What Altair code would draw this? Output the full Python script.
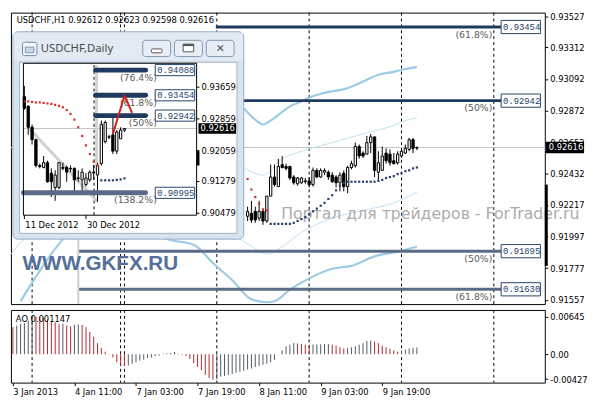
import json
import altair as alt
import pandas as pd

# ---------------- H1 chart data (bar 0 = 3 Jan 2013 19:00, one bar per hour) ----------------
h1_bar = list(range(61, 106))
h1_open = [0.92138, 0.92158, 0.92172, 0.92125, 0.92172, 0.92105, 0.92278, 0.92411, 0.92344, 0.92497,
           0.92484, 0.92484, 0.92411, 0.92364, 0.92371, 0.92378, 0.92384, 0.92358, 0.92457, 0.92411,
           0.92444, 0.92444, 0.92424, 0.92411, 0.92371, 0.92437, 0.92344, 0.92477, 0.92490, 0.92623,
           0.92577, 0.92570, 0.92650, 0.92690, 0.92444, 0.92457, 0.92577, 0.92570, 0.92524, 0.92510,
           0.92557, 0.92577, 0.92603, 0.92670, 0.92612]
h1_high = [0.92205, 0.92245, 0.92205, 0.92245, 0.92191, 0.92278, 0.92497, 0.92497, 0.92537, 0.92557,
           0.92504, 0.92490, 0.92424, 0.92411, 0.92411, 0.92404, 0.92411, 0.92477, 0.92471, 0.92471,
           0.92471, 0.92457, 0.92444, 0.92424, 0.92444, 0.92457, 0.92490, 0.92524, 0.92650, 0.92637,
           0.92590, 0.92697, 0.92710, 0.92690, 0.92590, 0.92623, 0.92610, 0.92603, 0.92577, 0.92590,
           0.92603, 0.92637, 0.92683, 0.92683, 0.92623]
h1_low = [0.92105, 0.92092, 0.92092, 0.92105, 0.92078, 0.92092, 0.92278, 0.92344, 0.92344, 0.92471,
          0.92457, 0.92391, 0.92358, 0.92351, 0.92364, 0.92364, 0.92338, 0.92344, 0.92404, 0.92404,
          0.92424, 0.92391, 0.92371, 0.92338, 0.92311, 0.92311, 0.92298, 0.92464, 0.92477, 0.92537,
          0.92544, 0.92570, 0.92577, 0.92411, 0.92391, 0.92457, 0.92504, 0.92490, 0.92497, 0.92497,
          0.92544, 0.92570, 0.92590, 0.92577, 0.92598]
h1_close = [0.92172, 0.92112, 0.92112, 0.92172, 0.92105, 0.92278, 0.92411, 0.92358, 0.92484, 0.92477,
            0.92471, 0.92404, 0.92371, 0.92404, 0.92404, 0.92384, 0.92358, 0.92457, 0.92411, 0.92457,
            0.92457, 0.92411, 0.92378, 0.92371, 0.92424, 0.92344, 0.92477, 0.92504, 0.92623, 0.92557,
            0.92557, 0.92650, 0.92690, 0.92457, 0.92510, 0.92557, 0.92524, 0.92510, 0.92504, 0.92570,
            0.92590, 0.92610, 0.92670, 0.92610, 0.92616]

sar_red_bar = [61, 62, 63, 64, 65, 66]
sar_red_val = [0.92397, 0.92324, 0.92271, 0.92225, 0.92185, 0.92178]
sar_blue_bar = list(range(67, 106))
sar_blue_val = [0.92085, 0.92085, 0.92085, 0.92085, 0.92085, 0.92085, 0.92092, 0.92105, 0.92118, 0.92132,
                0.92152, 0.92172, 0.92191, 0.92211, 0.92231, 0.92258, 0.92284, 0.92318, 0.92351, 0.92371,
                0.92378, 0.92378, 0.92378, 0.92378, 0.92378, 0.92378, 0.92378, 0.92378, 0.92384, 0.92391,
                0.92404, 0.92411, 0.92417, 0.92431, 0.92437, 0.92451, 0.92457, 0.92471, 0.92477]

band_upper_bar = [60, 63, 65, 67, 70, 72, 75, 77, 81, 87, 91, 95, 99, 102, 105]
band_upper_val = [0.92889, 0.92809, 0.92776, 0.92803, 0.92863, 0.92902, 0.92936, 0.92962, 0.92996, 0.93029,
                  0.93075, 0.93122, 0.93142, 0.93162, 0.93175]
band_mid_bar = [59, 63, 65, 70, 75, 82, 90, 99, 102, 105]
band_mid_val = [0.92490, 0.92437, 0.92424, 0.92537, 0.92590, 0.92643, 0.92703, 0.92770, 0.92803, 0.92823]
band_lowthin_bar = [-0.5, 3, 30, 59, 63, 66, 70, 75, 83, 91, 99, 105]
band_lowthin_val = [0.91873, 0.91979, 0.92250, 0.91979, 0.91912, 0.91873, 0.91926, 0.92025, 0.92125, 0.92178,
                    0.92231, 0.92304]
band_low_bar = [2, 12, 26, 40, 47, 52, 57, 62, 66, 68, 72, 77, 83, 88, 94, 100, 105]
band_low_val = [0.91547, 0.91946, 0.92250, 0.91979, 0.91939, 0.91813, 0.91693, 0.91560, 0.91540, 0.91547,
                0.91627, 0.91706, 0.91773, 0.91793, 0.91859, 0.91892, 0.91926]

fib_hi_levels = [0.93454, 0.92942]
fib_hi_pct = ["(61.8%)", "(50%)"]
fib_hi_start = 52.75
fib_lo_levels = [0.91895, 0.91630]
fib_lo_pct = ["(50%)", "(61.8%)"]
fib_lo_start = 17
fib_end = 127

sep_bars = [5, 28, 29, 53, 77, 101, 125]
main_ticks = [0.93527, 0.93312, 0.93092, 0.92872, 0.92652, 0.92432, 0.92217, 0.91997, 0.91777, 0.91557]
current_price = 0.92616
title_text = "USDCHF,H1  0.92612 0.92623 0.92598 0.92616"

# ---------------- AO indicator ----------------
ao_vals = [0.00464, 0.00492, 0.00518, 0.00534, 0.00574, 0.00650, 0.00645, 0.00638, 0.00628, 0.00600,
           0.00574, 0.00546, 0.00518, 0.00525, 0.00492, 0.00480, 0.00502, 0.00508, 0.00502, 0.00464,
           0.00382, 0.00300, 0.00190, 0.00108, 0.00043, -0.00005, -0.00056, -0.00138, -0.00192, -0.00203,
           -0.00192, -0.00164, -0.00138, -0.00110, -0.00093, -0.00066, -0.00056, -0.00033, -0.00023, 0.00010,
           0.00016, 0.00021, 0.00038, 0.00010, -0.00011, -0.00028, -0.00082, -0.00154, -0.00220, -0.00274,
           -0.00356, -0.00410, -0.00438, -0.00431, -0.00384, -0.00372, -0.00356, -0.00339, -0.00318, -0.00302,
           -0.00285, -0.00262, -0.00246, -0.00220, -0.00203, -0.00180, -0.00164, -0.00138, -0.00098, -0.00004,
           0.00066, 0.00136, 0.00164, 0.00192, 0.00187, 0.00174, 0.00164, 0.00159, 0.00164, 0.00167,
           0.00169, 0.00174, 0.00177, 0.00164, 0.00148, 0.00120, 0.00100, 0.00107, 0.00120, 0.00136,
           0.00164, 0.00190, 0.00230, 0.00234, 0.00218, 0.00190, 0.00148, 0.00120, 0.00092, 0.00066,
           0.00043, 0.00066, 0.00082, 0.00098, 0.00108, 0.00115]
ao_ticks = [0.00645, 0.0, -0.00427]
ao_title = "AO 0.001147"
xtick_bars = [0, 16, 32, 48, 64, 80, 96]
xtick_labels = ["3 Jan 2013", "4 Jan 11:00", "7 Jan 03:00", "7 Jan 19:00", "8 Jan 11:00", "9 Jan 03:00", "9 Jan 19:00"]

# ---------------- Daily inset data ----------------
d1_bar = list(range(27))
d1_open = [0.93418, 0.93177, 0.92647, 0.92334, 0.91684, 0.91635, 0.91756, 0.91491, 0.91130, 0.91130,
           0.91635, 0.91635, 0.91611, 0.91611, 0.91370, 0.91322, 0.91202, 0.91322, 0.91515, 0.91443,
           0.91732, 0.92286, 0.92406, 0.92455, 0.92045, 0.92358, 0.92575]
d1_high = [0.93690, 0.93201, 0.92720, 0.92358, 0.91732, 0.91925, 0.91804, 0.91611, 0.91563, 0.91756,
           0.91756, 0.91684, 0.91684, 0.91635, 0.91563, 0.91611, 0.91491, 0.91563, 0.91700, 0.91756,
           0.92816, 0.92816, 0.92460, 0.92888, 0.92575, 0.92647, 0.92623]
d1_low = [0.93088, 0.92455, 0.92214, 0.91635, 0.91611, 0.91611, 0.91250, 0.90889, 0.90792, 0.91081,
          0.91563, 0.91274, 0.91515, 0.91033, 0.91274, 0.91033, 0.91154, 0.91274, 0.91322, 0.90768,
          0.91684, 0.92238, 0.92350, 0.91973, 0.91973, 0.92358, 0.92527]
d1_close = [0.93129, 0.92647, 0.92334, 0.91684, 0.91660, 0.91756, 0.91274, 0.91274, 0.91443, 0.91756,
            0.91611, 0.91515, 0.91600, 0.91322, 0.91360, 0.91515, 0.91370, 0.91515, 0.91505, 0.91684,
            0.92720, 0.92768, 0.92400, 0.92045, 0.92527, 0.92575, 0.92616]
d1_sar_red = [0.93298, 0.93298, 0.93286, 0.93274, 0.93274, 0.93262, 0.93249, 0.93237, 0.93213, 0.93189,
              0.93153, 0.93081, 0.92984, 0.92840, 0.92647, 0.92430, 0.92190, 0.91973, 0.91780, 0.91684]
d1_sar_blue = [0.91310, 0.91310, 0.91310, 0.91310, 0.91322, 0.91334, 0.91359]
d1_fib_levels = [0.94088, 0.93454, 0.92942]
d1_fib_pct = ["(76.4%)", "(61.8%)", "(50%)"]
d1_fib_start = 18.5
d1_fib_ext_level = [0.90995]
d1_fib_ext_pct = ["(138.2%)"]
d1_fib_ext_start = -0.25
d1_fib_end = 31.5
d1_zigzag_bar = [23, 26, 28]
d1_zigzag_val = [0.92479, 0.93442, 0.93009]
d1_trend_bar = [1, 19]
d1_trend_val = [0.92647, 0.90768]
d1_sep_bar = 18.1
d1_ticks = [0.93659, 0.92859, 0.92059, 0.91279, 0.90479]
d1_xtick_bars = [0, 16]
d1_xtick_labels = ["11 Dec 2012", "30 Dec 2012"]
inset_title = "USDCHF,Daily"

# ---------------- layout ----------------
W, H1, H2 = 544, 297, 74
KX, KY = W / 555.0, H1 / 305.0


def px(v):
    return round(v * KX, 1)


def py(v):
    return round(v * KY, 1)


FONT = "DejaVu Sans"
ONE = pd.DataFrame({"k": [0]})
NAVY = "#1f3a5f"
SLATE = "#5a6b83"

mx = alt.Scale(domain=[-0.5, 138.25], nice=False, zero=False)
my = alt.Scale(domain=[0.91527, 0.93554], nice=False, zero=False)
main_yaxis = alt.Axis(orient="right", values=main_ticks, format=".5f", title=None, grid=False,
                      domain=False, tickSize=3, tickColor="black", labelColor="black",
                      labelFont=FONT, labelFontSize=8.5, labelPadding=2, zindex=0)


def MX(f):
    return alt.X(f, type="quantitative", scale=mx, axis=None)


def MY(f):
    return alt.Y(f, type="quantitative", scale=my, axis=main_yaxis)


def vrect(x0, x1, y0, y1, **kw):
    return alt.Chart(ONE).mark_rect(**kw).encode(
        x=alt.value(px(x0)), x2=alt.value(px(x1)), y=alt.value(py(y0)), y2=alt.value(py(y1)))


def vtext(txt, x, y, **kw):
    return alt.Chart(ONE).mark_text(**kw).encode(
        x=alt.value(px(x)), y=alt.value(py(y)), text=alt.value(txt))


# ----- main layers -----
cur_df = pd.DataFrame({"price": [current_price]})
cur_line = alt.Chart(cur_df).mark_rule(color="#c4c4c4", strokeWidth=1).encode(y=MY("price"))

seps = alt.Chart(pd.DataFrame({"bar": sep_bars})).mark_rule(
    color="black", strokeWidth=1, strokeDash=[3, 3]).encode(x=MX("bar"))


def band(bars, vals, color, width):
    return alt.Chart(pd.DataFrame({"bar": bars, "v": vals})).mark_line(
        color=color, strokeWidth=width, interpolate="monotone").encode(x=MX("bar"), y=MY("v"))


bands = [
    band(band_upper_bar, band_upper_val, "#9ccbe4", 2.2),
    band(band_mid_bar, band_mid_val, "#bfe0f0", 1),
    band(band_lowthin_bar, band_lowthin_val, "#bfe0f0", 1),
    band(band_low_bar, band_low_val, "#9ccbe4", 2.2),
]


def fib_layers(levels, pcts, start, color):
    df = pd.DataFrame({"price": levels, "pct": pcts})
    base = alt.Chart(df).transform_calculate(
        x0=str(start), x1=str(fib_end), xp="124.6", b0="126.9", b1="137.1",
        blo="datum.price - 0.00046", bhi="datum.price + 0.00046",
        lbl="format(datum.price, '.5f')")
    line = base.mark_rule(color=color, strokeWidth=3).encode(x=MX("x0:Q"), x2="x1:Q", y=MY("price"))
    pct = base.mark_text(align="right", baseline="middle", dy=py(8), font=FONT, fontSize=9.5,
                         color="#5c5c5c").encode(x=MX("xp:Q"), y=MY("price"), text="pct:N")
    box = base.mark_rect(fill="white", stroke="#24426a", strokeWidth=1).encode(
        x=MX("b0:Q"), x2="b1:Q", y=MY("blo:Q"), y2="bhi:Q")
    lab = base.mark_text(align="left", baseline="middle", dx=2, font="Liberation Mono", fontSize=9,
                         color="#24426a").encode(x=MX("b0:Q"), y=MY("price"), text="lbl:N")
    return [line], [pct, box, lab]


fh_lines, fh_labels = fib_layers(fib_hi_levels, fib_hi_pct, fib_hi_start, NAVY)
fl_lines, fl_labels = fib_layers(fib_lo_levels, fib_lo_pct, fib_lo_start, SLATE)

fib_anchor = alt.Chart(pd.DataFrame({"bar": [fib_lo_start], "top": [0.92600], "bot": [0.91527]})).mark_rule(
    color="#cdcdcd", strokeWidth=2).encode(x=MX("bar"), y=MY("top"), y2="bot")

h1 = pd.DataFrame({"bar": h1_bar, "o": h1_open, "h": h1_high, "l": h1_low, "c": h1_close})
h1["top"] = h1[["o", "c"]].max(axis=1)
h1["bot"] = h1[["o", "c"]].min(axis=1)
h1["fill"] = ["white" if c >= o else "black" for o, c in zip(h1_open, h1_close)]
wicks = alt.Chart(h1).mark_rule(color="black", strokeWidth=1).encode(x=MX("bar"), y=MY("l"), y2="h")
bodies = alt.Chart(h1).transform_calculate(xl="datum.bar - 0.3", xr="datum.bar + 0.3").mark_rect(
    stroke="black", strokeWidth=1).encode(x=MX("xl:Q"), x2="xr:Q", y=MY("bot"), y2="top",
                                          fill=alt.Fill("fill:N", scale=None))

sar_r = alt.Chart(pd.DataFrame({"bar": sar_red_bar, "v": sar_red_val})).mark_square(
    size=5, color="#d0302c", opacity=1).encode(x=MX("bar"), y=MY("v"))
sar_b = alt.Chart(pd.DataFrame({"bar": sar_blue_bar, "v": sar_blue_val})).mark_square(
    size=5, color="#26406f", opacity=1).encode(x=MX("bar"), y=MY("v"))

wm_ru = vtext("Портал для трейдеров - ForTrader.ru", 281, 211, align="left", baseline="middle",
              font=FONT, fontSize=16, color="#acacac")
wm_gk = vtext("WWW.GKFX.RU", 12, 263, align="left", baseline="middle", font="Liberation Sans",
              fontSize=21, fontWeight="bold", color="#55709a")

axis_box_base = alt.Chart(cur_df).transform_calculate(
    lo="datum.price - 0.00040", hi="datum.price + 0.00040", lbl="format(datum.price, '.5f')")
axis_box = axis_box_base.mark_rect(color="black").encode(
    x=alt.value(W + 1), x2=alt.value(W + 40), y=MY("lo:Q"), y2="hi:Q")
axis_box_txt = axis_box_base.mark_text(align="left", baseline="middle", font=FONT, fontSize=8.5,
                                       color="white").encode(x=alt.value(W + 4), y=MY("price"), text="lbl:N")
marker_df = pd.DataFrame({"a": [0.92358], "b": [0.91793]})
axis_marker = alt.Chart(marker_df).mark_rect(color="black").encode(
    x=alt.value(W), x2=alt.value(W + 3), y=MY("a"), y2="b")

main_group = alt.layer(cur_line, seps, *bands, *fh_lines, *fl_lines, fib_anchor, wm_ru, wm_gk,
                       wicks, bodies, sar_r, sar_b, *fh_labels, *fl_labels,
                       axis_box, axis_box_txt, axis_marker)

# ----- inset (daily chart window) -----
ix = alt.Scale(domain=[-0.25, 44.75], range=[px(13), px(193)], nice=False, zero=False)
iy = alt.Scale(domain=[0.90431, 0.94261], range=[py(212), py(53)], nice=False, zero=False)


def IX(f):
    return alt.X(f, type="quantitative", scale=ix, axis=None)


def IY(f):
    return alt.Y(f, type="quantitative", scale=iy, axis=None)


chrome = [
    vrect(2, 242, 20, 237, fill="#d8e3f0", stroke="#98abc2", strokeWidth=1, cornerRadius=5),
    vrect(3, 241, 21, 50, fill="#e2eaf4"),
    vrect(9, 235, 52, 231, fill="white", stroke="#a4b1c0", strokeWidth=1),
    vrect(12, 27, 31, 45, fill="#f3f6fa", stroke="#6f87a4", strokeWidth=1, cornerRadius=2),
    vrect(15, 24, 36, 42, fill="#c9d7e8", stroke="#6f87a4", strokeWidth=0.8),
    vtext(inset_title, 31, 38, align="left", baseline="middle", font="Noto Sans", fontSize=11.5,
          color="#4a4a4a"),
]
for bx0 in (137, 170, 203):
    chrome.append(vrect(bx0, bx0 + 29, 29, 46, fill="#e8eef5", stroke="#8194aa", strokeWidth=1,
                        cornerRadius=3))
chrome += [
    vrect(146, 157, 38, 42, fill="white", stroke="#555555", strokeWidth=1, cornerRadius=1),
    vrect(179, 190, 33, 41, fill="white", stroke="#555555", strokeWidth=1),
    vrect(179, 190, 33, 35, fill="#555555"),
    vtext("✕", 217.5, 38, align="center", baseline="middle", font=FONT, fontSize=11,
          fontWeight="bold", color="#555555"),
]

ip_line = alt.Chart(pd.DataFrame({"p": [current_price], "x0": [-0.25], "x1": [44.75]})).mark_rule(
    color="#c4c4c4", strokeWidth=1).encode(x=IX("x0"), x2="x1", y=IY("p"))
ip_sep = alt.Chart(pd.DataFrame({"bar": [d1_sep_bar], "lo": [0.90431], "hi": [0.94261]})).mark_rule(
    color="black", strokeWidth=1, strokeDash=[3, 3]).encode(x=IX("bar"), y=IY("lo"), y2="hi")
ip_anchor = alt.Chart(pd.DataFrame({"bar": [18.75], "a": [0.94213], "b": [0.91684]})).mark_rule(
    color="#d2d2d2", strokeWidth=3).encode(x=IX("bar"), y=IY("a"), y2="b")
ip_trend = alt.Chart(pd.DataFrame({"bar": d1_trend_bar, "v": d1_trend_val})).mark_line(
    color="#d0d0d0", strokeWidth=3).encode(x=IX("bar"), y=IY("v"))

d1 = pd.DataFrame({"bar": d1_bar, "o": d1_open, "h": d1_high, "l": d1_low, "c": d1_close})
d1["top"] = d1[["o", "c"]].max(axis=1)
d1["bot"] = d1[["o", "c"]].min(axis=1)
d1["fill"] = ["white" if c >= o else "black" for o, c in zip(d1_open, d1_close)]
i_wicks = alt.Chart(d1).mark_rule(color="black", strokeWidth=1).encode(x=IX("bar"), y=IY("l"), y2="h")
i_bodies = alt.Chart(d1).transform_calculate(xl="datum.bar - 0.3", xr="datum.bar + 0.3").mark_rect(
    stroke="black", strokeWidth=1).encode(x=IX("xl:Q"), x2="xr:Q", y=IY("bot"), y2="top",
                                          fill=alt.Fill("fill:N", scale=None))
i_sar_r = alt.Chart(pd.DataFrame({"bar": list(range(len(d1_sar_red))), "v": d1_sar_red})).mark_square(
    size=5, color="#d0302c", opacity=1).encode(x=IX("bar"), y=IY("v"))
i_sar_b = alt.Chart(pd.DataFrame({"bar": list(range(20, 20 + len(d1_sar_blue))), "v": d1_sar_blue})).mark_square(
    size=5, color="#26406f", opacity=1).encode(x=IX("bar"), y=IY("v"))


def inset_fib(levels, pcts, start, color):
    df = pd.DataFrame({"price": levels, "pct": pcts})
    base = alt.Chart(df).transform_calculate(
        x0=str(start), x1=str(d1_fib_end), xp="34.4", b0="34", b1="44.25",
        blo="datum.price - 0.00140", bhi="datum.price + 0.00140",
        lbl="format(datum.price, '.5f')")
    line = base.mark_rule(color=color, strokeWidth=5, strokeCap="round").encode(
        x=IX("x0:Q"), x2="x1:Q", y=IY("price"))
    pct = base.mark_text(align="right", baseline="middle", dy=py(8), font=FONT, fontSize=9.5,
                         color="#5c5c5c").encode(x=IX("xp:Q"), y=IY("price"), text="pct:N")
    box = base.mark_rect(fill="white", stroke="#24426a", strokeWidth=1).encode(
        x=IX("b0:Q"), x2="b1:Q", y=IY("blo:Q"), y2="bhi:Q")
    lab = base.mark_text(align="left", baseline="middle", dx=2, font="Liberation Mono", fontSize=9,
                         color="#24426a").encode(x=IX("b0:Q"), y=IY("price"), text="lbl:N")
    return [line, pct, box, lab]


i_fib = inset_fib(d1_fib_levels, d1_fib_pct, d1_fib_start, NAVY) + \
    inset_fib(d1_fib_ext_level, d1_fib_ext_pct, d1_fib_ext_start, SLATE)

i_zigzag = alt.Chart(pd.DataFrame({"bar": d1_zigzag_bar, "v": d1_zigzag_val})).mark_line(
    color="#cc2222", strokeWidth=2).encode(x=IX("bar"), y=IY("v"))
i_frame = vrect(13, 193, 53, 212, fillOpacity=0, stroke="black", strokeWidth=1)

tick_df = pd.DataFrame({"p": d1_ticks})
i_ylab = alt.Chart(tick_df).mark_text(align="left", baseline="middle", font=FONT, fontSize=8.5,
                                      color="black").encode(
    x=alt.value(px(198)), y=IY("p"), text=alt.Text("p:Q", format=".5f"))
i_ytick = alt.Chart(tick_df).mark_rule(color="black").encode(
    x=alt.value(px(193)), x2=alt.value(px(196)), y=IY("p"))
ibox_base = alt.Chart(cur_df).transform_calculate(
    lo="datum.price - 0.00132", hi="datum.price + 0.00132", lbl="format(datum.price, '.5f')")
i_pbox = ibox_base.mark_rect(color="black").encode(
    x=alt.value(px(195)), x2=alt.value(px(234)), y=IY("lo:Q"), y2="hi:Q")
i_ptxt = ibox_base.mark_text(align="left", baseline="middle", font=FONT, fontSize=8.5,
                             color="white").encode(x=alt.value(px(197)), y=IY("price"), text="lbl:N")
i_marker = alt.Chart(pd.DataFrame({"a": [0.92045], "b": [0.91684]})).mark_rect(color="black").encode(
    x=alt.value(px(193)), x2=alt.value(px(196)), y=IY("a"), y2="b")
xl_df = pd.DataFrame({"bar": d1_xtick_bars, "lbl": d1_xtick_labels})
i_xlab = alt.Chart(xl_df).mark_text(align="left", baseline="middle", dx=1, font=FONT, fontSize=8.5,
                                    color="black").encode(x=IX("bar"), y=alt.value(py(222)), text="lbl:N")
i_xtick = alt.Chart(xl_df).mark_rule(color="black").encode(
    x=IX("bar"), y=alt.value(py(212)), y2=alt.value(py(216)))

title = vtext(title_text, 6, 8, align="left", baseline="middle", font=FONT, fontSize=8.5, color="black")

inset_group = alt.layer(*chrome, ip_line, ip_sep, ip_anchor, ip_trend, i_wicks, i_bodies,
                        i_sar_r, i_sar_b, *i_fib, i_zigzag, i_frame, i_ylab, i_ytick,
                        i_pbox, i_ptxt, i_marker, i_xlab, i_xtick, title)

main_full = alt.layer(main_group, inset_group).resolve_scale(
    x="independent", y="independent").properties(width=W, height=H1)

# ----- AO panel -----
ao = pd.DataFrame({"bar": list(range(len(ao_vals))), "ao": ao_vals})
ao["dir"] = ["dn"] + ["up" if b > a else "dn" for a, b in zip(ao_vals[:-1], ao_vals[1:])]
ao["zero"] = 0.0
ay = alt.Scale(domain=[-0.00487, 0.00759], nice=False, zero=False)
ao_yaxis = alt.Axis(orient="right", values=ao_ticks, title=None, grid=False, domain=False,
                    tickSize=3, tickColor="black", labelColor="black", labelFont=FONT,
                    labelFontSize=8.5, labelPadding=2,
                    labelExpr="datum.value == 0 ? '0.00' : (datum.value < 0 ? '-' + format(-datum.value, '.5f') : format(datum.value, '.5f'))")
ao_xaxis = alt.Axis(orient="bottom", values=xtick_bars, title=None, grid=False, domain=False,
                    tickSize=3, tickColor="black", labelColor="black", labelFont=FONT,
                    labelFontSize=8.5, labelPadding=2, labelAlign="left", labelFlush=False,
                    labelOverlap=False, labelBound=False,
                    labelExpr=f"{json.dumps(xtick_labels)}[indexof({json.dumps(xtick_bars)}, datum.value)]")


def AX(f):
    return alt.X(f, type="quantitative", scale=mx, axis=ao_xaxis)


ao_bars = alt.Chart(ao).mark_rule(strokeWidth=1).encode(
    x=AX("bar"), y=alt.Y("zero:Q", scale=ay, axis=ao_yaxis), y2="ao:Q",
    color=alt.Color("dir:N", scale=alt.Scale(domain=["up", "dn"], range=["#4b5b69", "#b3262c"]),
                    legend=None))
ao_seps = alt.Chart(pd.DataFrame({"bar": sep_bars})).mark_rule(
    color="black", strokeWidth=1, strokeDash=[3, 3]).encode(x=AX("bar"))
ao_lab = alt.Chart(ONE).mark_text(align="left", baseline="middle", font=FONT, fontSize=8.5,
                                  color="black").encode(x=alt.value(5), y=alt.value(9),
                                                        text=alt.value(ao_title))
ao_chart = alt.layer(ao_seps, ao_bars, ao_lab).properties(width=W, height=H2)

chart = alt.vconcat(main_full, ao_chart, spacing=2).resolve_scale(
    x="independent", y="independent").properties(padding=0).configure_view(
    stroke="black", strokeWidth=1)

chart.save("out.html", embed_options={"renderer": "svg", "actions": False})
